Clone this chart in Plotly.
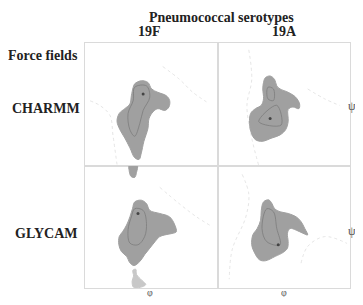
import plotly.graph_objects as go
from plotly.subplots import make_subplots

# Dihedral-angle density regions (phi, psi in degrees)
tl_phi = [-45, -27, -9, 1, 18, 41, 50, 48, 37, 18, 5, -6, -9, -20, -27, -33, -45, -58, -72, -85, -93, -87, -72, -58, -54, -49]
tl_psi = [60, 69, 64, 45, 35, 25, 11, -8, -18, -13, -22, -42, -71, -109, -143, -162, -157, -128, -99, -75, -50, -27, -13, 1, 25, 50]
tl_in_phi = [-45, -13, -4, -22, -31, -45, -58, -63, -49, -45]
tl_in_psi = [50, 54, 21, -18, -56, -94, -75, -27, 11, 50]
tl_dot = ([-22], [30])

tr_phi = [-50, -37, -25, -19, -10, 12, 32, 43, 41, 25, 12, 12, 5, -10, -32, -59, -77, -88, -93, -90, -77, -61, -55, -57, -55]
tr_psi = [78, 83, 73, 54, 45, 35, 21, 1, -13, -8, -15, -51, -75, -90, -99, -109, -104, -85, -56, -27, -13, -3, 16, 45, 64]
tr_in_phi = [-19, -68, -7, -19]
tr_in_psi = [-3, -51, -61, -3]
tr_in2_phi = [-43, -28, -28, -43, -43]
tr_in2_psi = [50, 45, 11, 16, 50]
tr_dot = ([-37], [-42])

bl_phi = [-45, -27, -13, -4, 23, 50, 64, 68, 59, 37, 23, 10, -4, -18, -31, -47, -58, -67, -81, -88, -87, -78, -67, -58, -51]
bl_psi = [73, 78, 68, 48, 39, 29, 5, -15, -19, -24, -29, -44, -63, -82, -102, -114, -106, -87, -73, -53, -29, -15, 5, 29, 53]
bl_in_phi = [-45, -22, -13, -18, -36, -58, -63, -54, -45]
bl_in_psi = [53, 48, 10, -29, -53, -48, -9, 29, 53]
bl_top_phi = [-60, -38, -40, -45, -55, -60]
bl_top_psi = [180, 180, 160, 145, 148, 165]
bl_bot_phi = [-50, -42, -40, -25, -15, -30, -48, -52, -48]
bl_bot_psi = [-128, -125, -140, -158, -170, -178, -178, -160, -145]
bl_dot = ([-36], [39])

br_phi = [-55, -41, -32, -25, -10, 12, 34, 47, 57, 65, 52, 34, 17, 10, 12, 10, -1, -23, -50, -66, -79, -87, -84, -72, -63, -61]
br_psi = [73, 79, 68, 53, 44, 39, 29, 15, -5, -24, -19, -10, -5, -19, -44, -63, -75, -87, -100, -97, -77, -53, -24, -5, 19, 48]
br_in_phi = [-46, -59, -46, -10, -19, -28, -46]
br_in_psi = [53, -5, -44, -53, -5, 44, 53]
br_dot = ([-15], [-53])

# faint energy contour lines in the background
tl_bg = [([31, 77, 112, 150], [111, 73, 36, 7]),
         ([-166, -139, -112, -104, -93], [10, -4, -33, -91, -177])]
tr_bg = [([-95, -87, -100, -87, -68], [160, 73, -4, -99, -180]),
         ([65, 111, 153], [45, 16, -4])]
bl_bg = [([23, 77, 123, 166], [116, 67, 29, 0])]
br_bg = [([-113, -95, -103, -140, -148], [154, 96, 29, -67, -154]),
         ([47, 65, 111, 172], [-107, -58, -29, -49])]

col_labels = ["19F", "19A"]
row_labels = ["CHARMM", "GLYCAM"]
title_text = "Pneumococcal serotypes"
side_title = "Force fields"

FILL = "#a0a0a0"
LINE = "#7c7c7c"
SERIF = "Liberation Serif"

fig = make_subplots(rows=2, cols=2, horizontal_spacing=0, vertical_spacing=0)


def blob(phi, psi, r, c, color=FILL):
    fig.add_trace(go.Scatter(x=phi + [phi[0]], y=psi + [psi[0]], mode="lines", fill="toself",
                             fillcolor=color, line=dict(color=color, width=1, shape="spline"),
                             hoverinfo="skip", showlegend=False), row=r, col=c)


def contour(phi, psi, r, c, color=LINE, dash="solid"):
    fig.add_trace(go.Scatter(x=phi, y=psi, mode="lines",
                             line=dict(color=color, width=0.8, shape="spline", dash=dash),
                             hoverinfo="skip", showlegend=False), row=r, col=c)


def dot(d, r, c):
    fig.add_trace(go.Scatter(x=d[0], y=d[1], mode="markers", marker=dict(color="#444", size=3),
                             hoverinfo="skip", showlegend=False), row=r, col=c)


for bg, (r, c) in [(tl_bg, (1, 1)), (tr_bg, (1, 2)), (bl_bg, (2, 1)), (br_bg, (2, 2))]:
    for xs, ys in bg:
        contour(xs, ys, r, c, color="#dedede", dash="dot")

blob(tl_phi, tl_psi, 1, 1)
contour(tl_in_phi, tl_in_psi, 1, 1)
dot(tl_dot, 1, 1)

blob(tr_phi, tr_psi, 1, 2)
contour(tr_in_phi, tr_in_psi, 1, 2)
contour(tr_in2_phi, tr_in2_psi, 1, 2)
dot(tr_dot, 1, 2)

blob(bl_phi, bl_psi, 2, 1)
blob(bl_top_phi, bl_top_psi, 2, 1)
blob(bl_bot_phi, bl_bot_psi, 2, 1, color="#c8c8c8")
contour(bl_in_phi, bl_in_psi, 2, 1)
dot(bl_dot, 2, 1)

blob(br_phi, br_psi, 2, 2)
contour(br_in_phi, br_in_psi, 2, 2)
dot(br_dot, 2, 2)

axis_style = dict(range=[-180, 180], showgrid=False, zeroline=False, showticklabels=False,
                  ticks="", showline=True, linecolor="#dadada", linewidth=1, mirror=True)
fig.update_xaxes(**axis_style)
fig.update_yaxes(**axis_style)

# The page body has an 8 px default margin on every side; the figure is kept
# small enough that the page does not scroll, and the plot area lands at
# x 85..350, y 43..288 of the window.
W, H = 347, 289
ML, MT, MR, MB = 77, 35, 5, 9
PW, PH = W - ML - MR, H - MT - MB


def px(ax):
    return (ax - 8 - ML) / PW


def py(ay):
    return 1 - (ay - 8 - MT) / PH


annotations = []


def label(text, ax, ay, size=14, color="#222"):
    annotations.append(dict(text=text, xref="paper", yref="paper", x=px(ax), y=py(ay),
                            showarrow=False, font=dict(family=SERIF, size=size, color=color),
                            xanchor="center", yanchor="middle"))


label("<b>%s</b>" % title_text, 221, 17)
label("<b>%s</b>" % col_labels[0], 149, 32)
label("<b>%s</b>" % col_labels[1], 284, 32)
label("<b>%s</b>" % side_title, 43, 56)
label("<b>%s</b>" % row_labels[0], 46, 108)
label("<b>%s</b>" % row_labels[1], 46, 233)
for yy in [106, 231]:
    label("ψ", 352, yy, size=12, color="#555")
for xx in [150, 284]:
    label("φ", xx, 292, size=10, color="#555")

fig.update_layout(width=W, height=H, margin=dict(l=ML, r=MR, t=MT, b=MB, autoexpand=False),
                  paper_bgcolor="white", plot_bgcolor="white", annotations=annotations)

fig.write_html("out.html")
